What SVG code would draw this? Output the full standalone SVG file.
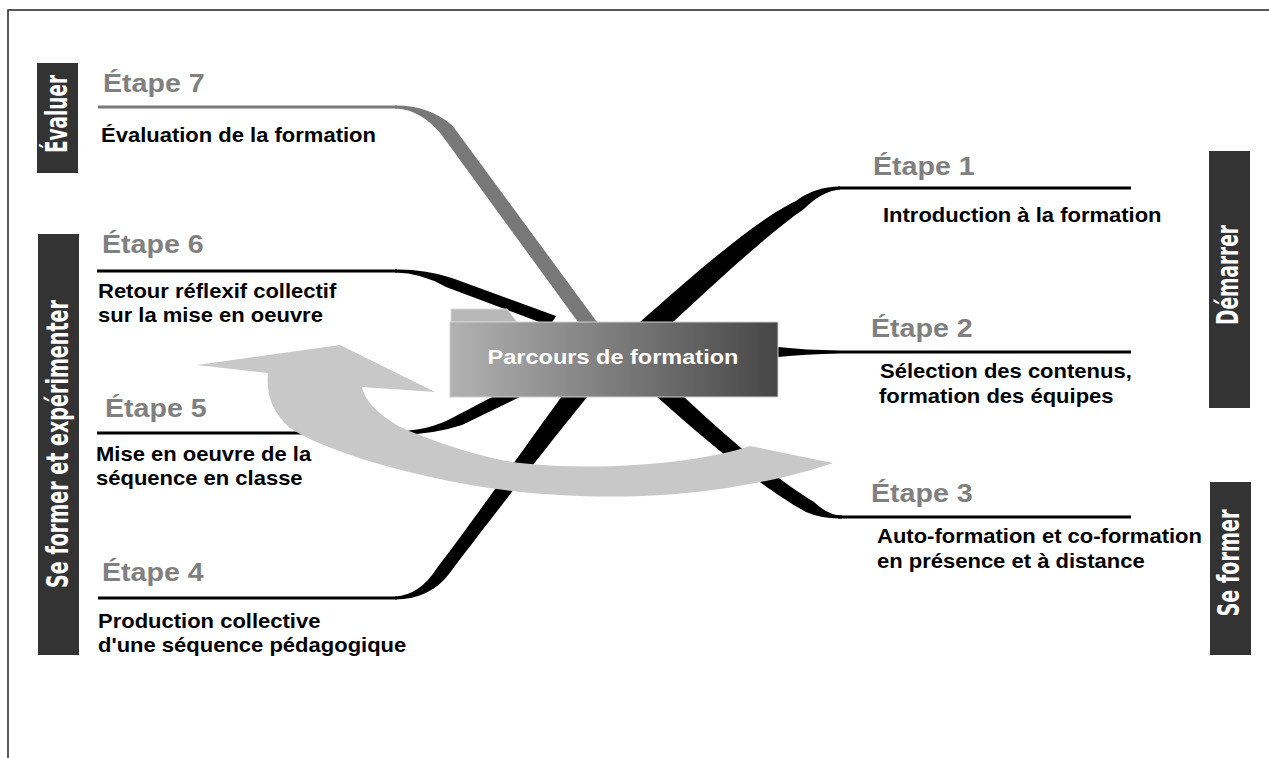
<svg xmlns="http://www.w3.org/2000/svg" width="1269" height="758" viewBox="0 0 1269 758">
<style>
.h{font-family:"Liberation Sans",Arial,sans-serif;font-weight:bold;font-size:26px;fill:#808080}
.b{font-family:"Liberation Sans",Arial,sans-serif;font-weight:bold;font-size:20px;fill:#000}
.side{fill:#333}
.st{font-family:"DejaVu Sans Condensed","DejaVu Sans",sans-serif;font-weight:bold;font-size:31px;fill:#fff;text-anchor:middle}
.ln{stroke:#000;stroke-width:3;fill:none}
.br{fill:#000}
</style>
<defs>
<linearGradient id="gbox" x1="0" y1="0" x2="1" y2="0">
<stop offset="0" stop-color="#b2b2b2"/>
<stop offset="0.5" stop-color="#7c7c7c"/>
<stop offset="1" stop-color="#464646"/>
</linearGradient>
</defs>
<rect x="0" y="0" width="1269" height="758" fill="#fff"/>
<rect x="8" y="10" width="1300" height="800" fill="none" stroke="#222" stroke-width="1.5"/>

<g id="connectors">
<line class="ln" x1="98" y1="107" x2="397" y2="107" style="stroke:#7a7a7a"/>
<line class="ln" x1="97" y1="271" x2="397" y2="271"/>
<line class="ln" x1="97" y1="433" x2="399" y2="433"/>
<line class="ln" x1="98" y1="598" x2="397" y2="598"/>
<line class="ln" x1="838" y1="188" x2="1131" y2="188"/>
<line class="ln" x1="838" y1="517" x2="1131" y2="517"/>
<path class="br" d="M778 347 Q805 350 840 350.5 L1131 350.5 L1131 353.5 L840 353.5 Q805 354 778 357 Z"/>
<path d="M395 105.5 Q428 105 452 125 L597 322 L578 322 L441 134 Q420 109 395 108.5 Z" fill="#787878"/>
<path class="br" d="M395 269.5 Q425 269 452 278 L556 316 L550 326 L446 287 Q422 273 395 272.5 Z"/>
<path class="br" d="M397 431.5 Q430 430 452 418 L494 396 L522 396 L462 425 Q432 435 397 434.5 Z"/>
<path class="br" d="M562 396 C530 440 470 525 437 568 Q420 595 395 596.5 L395 599.5 Q430 599 449 574 C482 530 552 440 588 396 Z"/>
<path class="br" d="M640 322 C690 278 755 220 796 201 Q815 186.5 840 186.5 L840 189.5 Q822 191 804 209 C770 232 712 286 673 322 Z"/>
<path class="br" d="M683 396 C730 440 775 478 814 502 Q828 515.5 842 515.5 L842 518.5 Q822 519 806 512 C765 490 705 440 656 396 Z"/>
</g>

<g id="cycle-arrow">
<path d="M833 463 C790 478 720 492 660 495 C600 499 520 495 460 483 C390 470 320 448 290 428 C272 412 266 395 268 373 L197 365 L340 345 L435 392 L362 387 C365 400 375 412 400 427 C430 440 480 458 520 463 C600 472 700 463 750 446 Z" fill="#c8c8c8"/>
</g>

<g id="center">
<path d="M451 322 L451 309 L507 309 L517 322 Z" fill="#b8b8b8" stroke="#dcdcdc" stroke-width="1"/>
<rect x="450" y="322" width="328" height="75" fill="url(#gbox)" stroke="#d0d0d0" stroke-width="1"/>
<text transform="translate(613,364) scale(1.12,1)" style="font-family:'Liberation Sans',Arial,sans-serif;font-weight:bold;font-size:21px;fill:#fff;text-anchor:middle">Parcours de formation</text>
</g>

<g id="etape7">
<text class="h" transform="translate(103,92) scale(1.1,1)">Étape 7</text>
<text class="b" transform="translate(101,142) scale(1.1,1)">Évaluation de la formation</text>
</g>
<g id="etape6">
<text class="h" transform="translate(102,253) scale(1.1,1)">Étape 6</text>
<text class="b" transform="translate(98,298) scale(1.1,1)">Retour réflexif collectif<tspan x="0" dy="24">sur la mise en oeuvre</tspan></text>
</g>
<g id="etape5">
<text class="h" transform="translate(105,417) scale(1.1,1)">Étape 5</text>
<text class="b" transform="translate(96,461) scale(1.1,1)">Mise en oeuvre de la<tspan x="0" dy="24">séquence en classe</tspan></text>
</g>
<g id="etape4">
<text class="h" transform="translate(102,581) scale(1.1,1)">Étape 4</text>
<text class="b" transform="translate(98,628) scale(1.1,1)">Production collective<tspan x="0" dy="24">d'une séquence pédagogique</tspan></text>
</g>
<g id="etape1">
<text class="h" transform="translate(873,175) scale(1.1,1)">Étape 1</text>
<text class="b" transform="translate(883,222) scale(1.1,1)">Introduction à la formation</text>
</g>
<g id="etape2">
<text class="h" transform="translate(871,337) scale(1.1,1)">Étape 2</text>
<text class="b" transform="translate(880,378) scale(1.1,1)">Sélection des contenus,<tspan x="-1" dy="25">formation des équipes</tspan></text>
</g>
<g id="etape3">
<text class="h" transform="translate(871,502) scale(1.1,1)">Étape 3</text>
<text class="b" transform="translate(877,543) scale(1.1,1)">Auto-formation et co-formation<tspan x="0" dy="25">en présence et à distance</tspan></text>
</g>

<g id="label-evaluer">
<rect class="side" x="37" y="63" width="41" height="110"/>
<text class="st" transform="translate(67,114) rotate(-90)" textLength="78" lengthAdjust="spacingAndGlyphs">Évaluer</text>
</g>
<g id="label-experimenter">
<rect class="side" x="38" y="234" width="41" height="421"/>
<text class="st" transform="translate(68,444) rotate(-90)" textLength="288" lengthAdjust="spacingAndGlyphs">Se former et expérimenter</text>
</g>
<g id="label-demarrer">
<rect class="side" x="1209" y="151" width="41" height="257"/>
<text class="st" transform="translate(1238,275) rotate(-90)" textLength="100" lengthAdjust="spacingAndGlyphs">Démarrer</text>
</g>
<g id="label-seformer">
<rect class="side" x="1210" y="482" width="41" height="173"/>
<text class="st" transform="translate(1239,563) rotate(-90)" textLength="107" lengthAdjust="spacingAndGlyphs">Se former</text>
</g>
</svg>
